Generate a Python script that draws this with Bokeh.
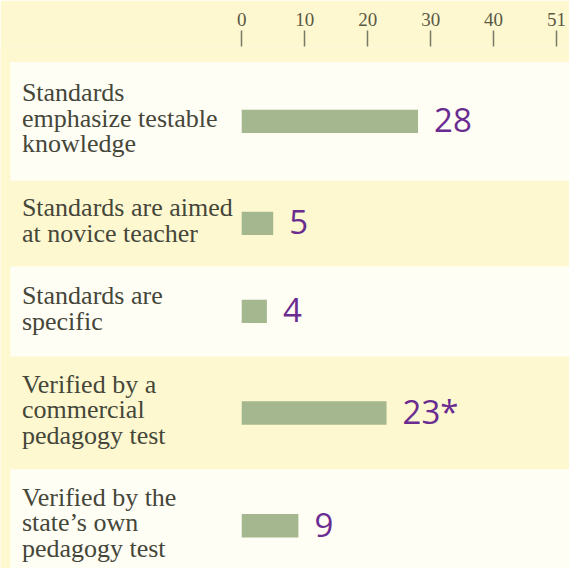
from bokeh.plotting import figure
from bokeh.models import Range1d, FixedTicker
from bokeh.embed import file_html
from bokeh.resources import INLINE
from bokeh.core.properties import value

# ---- data ----
categories = [
    "Standards\nemphasize testable\nknowledge",
    "Standards are aimed\nat novice teacher",
    "Standards are\nspecific",
    "Verified by a\ncommercial\npedagogy test",
    "Verified by the\nstate\u2019s own\npedagogy test",
]
values = [28, 5, 4, 23, 9]
value_labels = ["28", "5", "4", "23*", "9"]
tick_values = [0, 10, 20, 30, 40, 50]
tick_labels = ["0", "10", "20", "30", "40", "51"]

# ---- layout (reference-pixel units for vertical placement) ----
W, H = 569, 568
row_edges = [63, 185, 273, 366, 482, 598]
panel_rows = [0, 2, 4]
centers = [(row_edges[i] + row_edges[i + 1]) / 2 for i in range(len(values))]

px_per_unit = 6.474
zero_px = 248.0
x_start = -zero_px / px_per_unit
x_end = (585 - zero_px) / px_per_unit
panel_left = (10 - zero_px) / px_per_unit
label_x = (22 - zero_px) / px_per_unit

YELLOW = "#fdf8d0"
PANEL = "#fffef4"
BAR = "#a5b78e"
PURPLE = "#6b2c91"
TEXT = "#45463a"

top_border = round(47 * H / 584)

p = figure(width=W, height=H, output_backend="svg", toolbar_location=None,
           x_range=Range1d(x_start, x_end), y_range=Range1d(584, 47),
           x_axis_location="above", y_axis_location=None,
           min_border_left=0, min_border_right=0, min_border_bottom=0,
           min_border_top=top_border)
p.background_fill_color = YELLOW
p.border_fill_color = YELLOW
p.outline_line_color = None
p.grid.visible = False

# row panels
p.quad(left=[panel_left] * len(panel_rows), right=[x_end + 5] * len(panel_rows),
       top=[row_edges[i] for i in panel_rows], bottom=[row_edges[i + 1] for i in panel_rows],
       fill_color=PANEL, line_color=None)

# bars
p.hbar(y=centers, left=0, right=values, height=24, fill_color=BAR, line_color=None)

# category labels
p.text(x=[label_x] * len(categories), y=centers, text=categories, y_offset=-3,
       text_align="left", text_baseline="middle", text_font=value("Liberation Serif"),
       text_font_size="26px", text_color=TEXT, text_line_height=0.88)

# value labels
p.text(x=values, y=centers, text=value_labels, x_offset=16, y_offset=-1,
       text_align="left", text_baseline="middle", text_font=value("Open Sans"),
       text_font_size="33px", text_color=PURPLE)

ax = p.xaxis[0]
ax.ticker = FixedTicker(ticks=tick_values)
ax.major_label_overrides = {t: l for t, l in zip(tick_values, tick_labels)}
ax.axis_line_color = None
ax.minor_tick_line_color = None
ax.major_tick_in = 0
ax.major_tick_out = 16
ax.major_tick_line_color = "#7a7866"
ax.major_tick_line_width = 1.5
ax.major_label_standoff = 5
ax.major_label_text_font = "Liberation Serif"
ax.major_label_text_font_size = "19px"
ax.major_label_text_color = "#5a5946"

open("out.html", "w").write(file_html(p, INLINE))
